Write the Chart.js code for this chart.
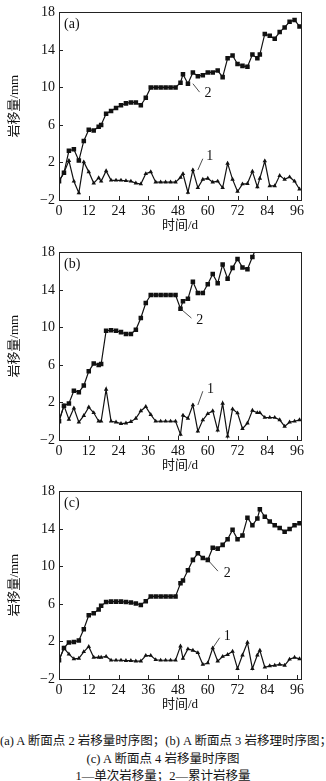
<!DOCTYPE html>
<html><head><meta charset="utf-8">
<script src="https://cdn.jsdelivr.net/npm/chart.js@4"></script>
<style>
html,body{margin:0;padding:0;background:#fff;}
body{width:326px;height:781px;overflow:hidden;position:relative;font-family:"Liberation Serif","Noto Sans CJK SC",serif;color:#111;}
canvas{position:absolute;left:0;}
.cap{position:absolute;left:0;width:326px;text-align:center;font-size:12.5px;white-space:nowrap;line-height:14px;height:14px;}
</style></head><body>
<canvas id="ca" width="326" height="236" style="top:0px"></canvas>
<canvas id="cb" width="326" height="236" style="top:240px"></canvas>
<canvas id="cc" width="326" height="236" style="top:479px"></canvas>
<div class="cap" style="top:734px">(a) A 断面点 2 岩移量时序图；(b) A 断面点 3 岩移理时序图；</div>
<div class="cap" style="top:752px">(c) A 断面点 4 岩移量时序图</div>
<div class="cap" style="top:769px">1—单次岩移量；2—累计岩移量</div>
<script>
// ---- data ----
const days = [0,2,4,6,8,10,12,14,16,17,19,21,23,25,27,29,31,33,35,37,39,41,43,45,47,49,50,52,54,56,58,60,62,64,66,68,70,72,74,76,78,80,81,83,85,87,89,91,93,95,97];
const xTicks = [0,12,24,36,48,60,72,84,96];
const yTicks = [-2,2,6,10,14,18];
const panelLabels = ['(a)','(b)','(c)'];
const xTitle = '时间/d';
const yTitle = '岩移量/mm';

const aSingle = [0,0.9,2.2,0,-1.25,2.05,1.0,-0.2,0.35,0,1.1,0.1,0.1,0.1,0.05,0,-0.2,-0.3,0.8,1.0,-0.1,-0.1,-0.1,-0.1,-0.1,0.4,0.8,-1.2,1.2,-0.7,0.2,0.3,-0.1,0,-0.7,1.9,0.2,-1.1,-0.3,-0.25,1.05,-0.6,0.3,2.15,-0.5,-0.5,0.6,0.2,0.45,0,-0.85];
const aTotal = [0,0.9,3.25,3.4,2.2,4.3,5.5,5.4,5.8,6.0,7.2,7.5,7.8,8.1,8.3,8.4,8.4,8.1,8.9,10.0,10.0,10.0,10.0,10.0,10.0,10.5,11.4,10.4,11.6,11.2,11.3,11.6,11.6,11.8,11.1,13.1,13.4,12.5,12.3,12.2,13.5,13.1,13.5,15.7,15.5,15.2,15.9,16.4,17.0,17.2,16.5];

const bSingle = [0,1.66,0.2,1.4,-0.1,0.6,1.5,0.9,0,0,3.4,0,-0.1,-0.25,-0.2,-0.05,0.3,1.1,1.55,0.7,0,0,0,0,0,-1.4,0.64,0.3,1.73,-1.06,0.13,0.8,1.1,-0.96,1.9,-1.6,1.3,0.88,-0.8,-0.2,1.15,0.9,0.9,0.4,0.4,0.4,0.15,-0.55,-0.1,0,0.15];
const bTotal = [0,1.66,1.9,3.26,3.1,3.8,5.33,6.15,6.0,6.1,9.65,9.7,9.65,9.5,9.3,9.3,9.75,11.0,12.6,13.46,13.46,13.46,13.46,13.46,13.46,12.0,12.8,13.05,14.86,13.67,13.67,14.6,15.7,14.7,16.7,15.2,16.35,17.3,16.4,16.2,17.5,18.8,null,null,null,null,null,null,null,null,null];

const cSingle = [0,1.3,0.65,0.15,0.2,0.9,1.45,0.3,0.3,0.3,0.4,0,0,0,-0.05,-0.05,-0.1,-0.1,0.5,0.5,0.05,0,0,0,0,1.5,0.2,1.2,1.05,0.8,-0.45,-0.3,1.3,-0.1,0.4,0.6,0.95,-0.9,0.55,1.9,-0.9,0.55,1.05,-0.75,-0.6,-0.55,-0.45,-0.55,0.1,0.3,0.15];
const cTotal = [0,1.3,1.9,1.95,2.1,3.3,4.8,5.0,5.4,5.8,6.2,6.25,6.25,6.25,6.2,6.15,6.05,5.9,6.3,6.8,6.8,6.8,6.8,6.8,6.8,8.2,8.5,9.6,10.7,11.4,10.9,10.7,12.0,11.9,12.3,12.9,13.9,12.9,13.3,15.2,14.4,15.1,16.1,15.3,14.8,14.4,14.1,13.7,14.0,14.4,14.6];

// leader labels: [fromX, fromY, toX, toY, textX, textY, text]
const aNotes = [[54,10.4,56.7,9.5,58.7,9.35,'2'],[56,1.2,58,2.4,59.4,2.65,'1']];
const bNotes = [[49,12.0,53.4,11.0,55.4,10.8,'2'],[56,1.73,58,3.2,59.7,3.4,'1']];
const cNotes = [[60,10.7,64.1,9.5,66.4,9.3,'2'],[62,1.3,64.8,2.4,66.4,2.6,'1']];

// ---- drawing ----
const SERIF = '"Liberation Serif","Noto Sans CJK SC",serif';
Chart.defaults.color = '#111';
const toXY = arr => days.map((d,i)=>({x:d,y:arr[i]}));
const fmt = v => v < 0 ? '\u2212' + Math.abs(v) : String(v);

const framePlugin = {
  id:'frame',
  afterDraw(chart, args, opts){
    const {ctx, chartArea:a, scales:{x,y}} = chart;
    ctx.save();
    ctx.strokeStyle='#222'; ctx.lineWidth=1;
    ctx.strokeRect(Math.round(a.left)+0.5, Math.round(a.top)+0.5, Math.round(a.right-a.left), Math.round(a.bottom-a.top));
    ctx.beginPath();
    xTicks.forEach(v=>{const p=Math.round(x.getPixelForValue(v))+0.5; ctx.moveTo(p,a.bottom); ctx.lineTo(p,a.bottom-4);});
    yTicks.forEach(v=>{const p=Math.round(y.getPixelForValue(v))+0.5; ctx.moveTo(a.left,p); ctx.lineTo(a.left+4,p);});
    ctx.stroke();
    ctx.fillStyle='#111';
    ctx.font='14px '+SERIF;
    ctx.textBaseline='middle'; ctx.textAlign='left';
    ctx.fillText(opts.label, a.left+5, a.top+12);
    ctx.lineWidth=0.8;
    opts.notes.forEach(n=>{
      ctx.beginPath();
      ctx.moveTo(x.getPixelForValue(n[0]), y.getPixelForValue(n[1]));
      ctx.lineTo(x.getPixelForValue(n[2]), y.getPixelForValue(n[3]));
      ctx.stroke();
      ctx.fillText(n[6], x.getPixelForValue(n[4]), y.getPixelForValue(n[5]));
    });
    ctx.restore();
  }
};

function makeChart(id, single, total, label, notes){
  new Chart(document.getElementById(id), {
    type:'line',
    data:{datasets:[
      {data:toXY(total), borderColor:'#111', backgroundColor:'#111', borderWidth:1.2, pointStyle:'rect', pointRadius:3.2, pointBorderWidth:0, tension:0},
      {data:toXY(single), borderColor:'#111', backgroundColor:'#111', borderWidth:1.2, pointStyle:'triangle', pointRadius:2.6, pointBorderWidth:0, tension:0}
    ]},
    options:{
      responsive:false, animation:false, devicePixelRatio:1,
      layout:{padding:{top:6,right:25,bottom:2.2,left:0}},
      plugins:{legend:{display:false}, tooltip:{enabled:false}, frame:{label, notes}},
      scales:{
        x:{type:'linear', min:0, max:97.6,
           afterBuildTicks:s=>{s.ticks=xTicks.map(v=>({value:v}));},
           afterFit:s=>{s.height=33.8;},
           grid:{display:false, drawTicks:false}, border:{display:false},
           ticks:{padding:3, font:{family:SERIF,size:14}, color:'#111', maxRotation:0, autoSkip:false},
           title:{display:true, text:xTitle, font:{family:SERIF,size:13}, color:'#111', padding:{top:0,bottom:0}}},
        y:{type:'linear', min:-2, max:18,
           afterBuildTicks:s=>{s.ticks=yTicks.map(v=>({value:v}));},
           afterFit:s=>{s.width=59;},
           grid:{display:false, drawTicks:false}, border:{display:false},
           ticks:{padding:4, font:{family:SERIF,size:14}, color:'#111', callback:fmt},
           title:{display:true, text:yTitle, font:{family:SERIF,size:13}, color:'#111', padding:{top:7,bottom:0}}}
      }
    },
    plugins:[framePlugin]
  });
}
makeChart('ca', aSingle, aTotal, panelLabels[0], aNotes);
makeChart('cb', bSingle, bTotal, panelLabels[1], bNotes);
makeChart('cc', cSingle, cTotal, panelLabels[2], cNotes);
</script>
</body></html>
